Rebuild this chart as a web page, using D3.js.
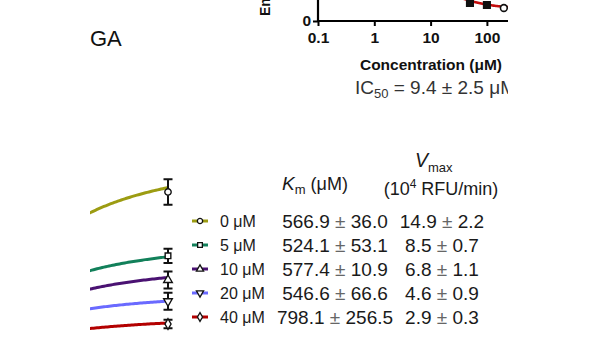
<!DOCTYPE html>
<html>
<head>
<meta charset="utf-8">
<script src="https://cdn.jsdelivr.net/npm/d3@7"></script>
<style>
  body { margin: 0; background: #fff; }
  svg { font-family: "Liberation Sans", Arial, sans-serif; }
</style>
</head>
<body>
<svg id="fig" width="600" height="338"></svg>
<script>
// inhibition curve (top panel)
const concTicks = [0.1, 1, 10, 100, 1000];
const ic50Conc = [50, 100, 200];
const ic50Act = [27.7, 24.6, 20.0];
const ic50Fit = { ic50: 9.4, top: 100, bottom: 18.2, hill: 1 };

// Michaelis-Menten panel (bottom)
const inhibitor = ["0 μM", "5 μM", "10 μM", "20 μM", "40 μM"];
const kmVals = [566.9, 524.1, 577.4, 546.6, 798.1];
const kmErr = [36.0, 53.1, 10.9, 66.6, 256.5];
const vmaxVals = [14.9, 8.5, 6.8, 4.6, 2.9];
const vmaxErr = [2.2, 0.7, 1.1, 0.9, 0.3];
const substrate = [2000];
const rateMean = [[11.3], [6.8], [5.1], [3.6], [2.0]];
const rateSd = [[0.9], [0.5], [0.6], [0.6], [0.3]];

const colors = ["#9c9c12", "#12805a", "#4a1272", "#6a6aff", "#b30000"];
const shapes = [d3.symbolCircle, d3.symbolSquare, d3.symbolTriangle, d3.symbolTriangle, d3.symbolDiamond];
const flip = [false, false, false, true, false];

const svg = d3.select("#fig");
const defs = svg.append("defs");
defs.append("clipPath").attr("id", "clipTop")
  .append("rect").attr("x", 0).attr("y", -10).attr("width", 508).attr("height", 130);
defs.append("clipPath").attr("id", "clipBottom")
  .append("rect").attr("x", 90).attr("y", 120).attr("width", 420).attr("height", 230);

// ---- top panel ----
const topPanel = svg.append("g").attr("clip-path", "url(#clipTop)");
const x1 = d3.scaleLog().domain([0.1, 1000]).range([318, 318 + 56.3 * 4]);
const y1 = d3.scaleLinear().domain([0, 100]).range([21, 21 - 65]);

const xAxis = d3.axisBottom(x1).tickValues(concTicks).tickSize(5).tickSizeOuter(0)
  .tickFormat(d3.format("~g"));
const gx = topPanel.append("g").attr("transform", "translate(0,21)").call(xAxis);
gx.select(".domain").attr("stroke-width", 2.2).attr("d", "M317,0H560");
gx.selectAll(".tick line").attr("stroke-width", 2);
gx.selectAll(".tick text").attr("font-size", 15.5).attr("font-weight", "bold")
  .attr("fill", "#111").attr("dy", "0.93em");

const yAxis = d3.axisLeft(y1).tickValues([0]).tickSize(5).tickSizeOuter(0);
const gy = topPanel.append("g").attr("transform", "translate(318,0)").call(yAxis);
gy.select(".domain").attr("stroke-width", 2.2).attr("d", "M0,-40V22");
gy.selectAll(".tick line").attr("stroke-width", 2);
gy.selectAll(".tick text").attr("font-size", 15.5).attr("font-weight", "bold")
  .attr("fill", "#111").attr("x", -7);

topPanel.append("text").attr("transform", "translate(270,16) rotate(-90)")
  .attr("font-size", 14).attr("font-weight", "bold").attr("fill", "#111")
  .text("Enzyme activity (%)");

const fitTop = c => ic50Fit.bottom + (ic50Fit.top - ic50Fit.bottom) / (1 + Math.pow(c / ic50Fit.ic50, ic50Fit.hill));
const logC = d3.range(-1, 2.6, 0.02).map(e => Math.pow(10, e));
topPanel.append("path").datum(logC)
  .attr("fill", "none").attr("stroke", "#c40d0d").attr("stroke-width", 2.6)
  .attr("d", d3.line().x(c => x1(c)).y(c => y1(fitTop(c))));

topPanel.selectAll(".pt").data(ic50Conc).join("path")
  .attr("transform", (c, i) => `translate(${x1(c)},${y1(ic50Act[i])})`)
  .attr("d", (c, i) => d3.symbol().type(i < 2 ? d3.symbolSquare : d3.symbolCircle).size(i < 2 ? 42 : 36)())
  .attr("fill", (c, i) => i < 2 ? "#111" : "#fff")
  .attr("stroke", "#111").attr("stroke-width", 1.6);

svg.append("text").attr("x", 431).attr("y", 70).attr("text-anchor", "middle")
  .attr("font-size", 15.5).attr("font-weight", "bold").attr("fill", "#111")
  .text("Concentration (μM)");

const ic = svg.append("text").attr("x", 355).attr("y", 94).attr("font-size", 19).attr("fill", "#333")
  .attr("clip-path", "url(#clipTop)");
ic.append("tspan").text("IC");
ic.append("tspan").attr("font-size", 13).attr("dy", 4).text("50");
ic.append("tspan").attr("dy", -4).text(" = 9.4 ± 2.5 μM");

svg.append("text").attr("x", 90).attr("y", 46).attr("font-size", 22).attr("fill", "#111").text("GA");

// ---- bottom panel ----
const bot = svg.append("g").attr("clip-path", "url(#clipBottom)");
const x2 = d3.scaleLinear().domain([0, 2000]).range([-5, 168]);
const y2 = d3.scaleLinear().domain([0, 12]).range([352.4, 352.4 - 14.2 * 12]);

const sGrid = d3.range(0, 2001, 20);
inhibitor.forEach((name, i) => {
  const mm = s => vmaxVals[i] * s / (kmVals[i] + s);
  bot.append("path").datum(sGrid)
    .attr("fill", "none").attr("stroke", colors[i]).attr("stroke-width", 3)
    .attr("d", d3.line().x(s => x2(s)).y(s => y2(mm(s))));

  substrate.forEach((s, j) => {
    const m = rateMean[i][j], e = rateSd[i][j];
    const xs = x2(s);
    bot.append("path")
      .attr("d", `M${xs},${y2(m + e)}V${y2(m - e)}M${xs - 4.5},${y2(m + e)}H${xs + 4.5}M${xs - 4.5},${y2(m - e)}H${xs + 4.5}`)
      .attr("stroke", "#111").attr("stroke-width", 2).attr("fill", "none");
    bot.append("path")
      .attr("transform", `translate(${xs},${y2(m)})${flip[i] ? " rotate(180)" : ""}`)
      .attr("d", d3.symbol().type(shapes[i]).size(32)())
      .attr("fill", "#fff").attr("stroke", "#111").attr("stroke-width", 1.4);
  });
});

// legend + fit table
const rowY = d3.scalePoint().domain(inhibitor).range([221, 317]);
const leg = svg.append("g");
inhibitor.forEach((name, i) => {
  const yy = rowY(name);
  leg.append("line").attr("x1", 192).attr("x2", 208).attr("y1", yy).attr("y2", yy)
    .attr("stroke", colors[i]).attr("stroke-width", 3);
  leg.append("path")
    .attr("transform", `translate(200,${yy})${flip[i] ? " rotate(180)" : ""}`)
    .attr("d", d3.symbol().type(shapes[i]).size(22)())
    .attr("fill", "#fff").attr("stroke", "#111").attr("stroke-width", 1.3);
  leg.append("text").attr("x", 220).attr("y", yy + 6).attr("font-size", 16).attr("fill", "#1a1a1a").text(name);

  const km = leg.append("text").attr("x", 335).attr("y", yy + 6.5).attr("text-anchor", "middle")
    .attr("font-size", 19).attr("fill", "#1a1a1a");
  km.append("tspan").text(kmVals[i].toFixed(1) + " ");
  km.append("tspan").attr("fill", "#666").text("±");
  km.append("tspan").text(" " + kmErr[i].toFixed(1));

  const vm = leg.append("text").attr("x", 442).attr("y", yy + 6.5).attr("text-anchor", "middle")
    .attr("font-size", 19).attr("fill", "#1a1a1a");
  vm.append("tspan").text(vmaxVals[i].toFixed(1) + " ");
  vm.append("tspan").attr("fill", "#666").text("±");
  vm.append("tspan").text(" " + vmaxErr[i].toFixed(1));
});

const kmHead = svg.append("text").attr("x", 282).attr("y", 190).attr("font-size", 19).attr("fill", "#1a1a1a");
kmHead.append("tspan").attr("font-style", "italic").text("K");
kmHead.append("tspan").attr("font-size", 13).attr("dy", 4).text("m");
kmHead.append("tspan").attr("dy", -4).attr("font-size", 18).text(" (μM)");

const vHead = svg.append("text").attr("x", 415).attr("y", 167).attr("font-size", 19.5).attr("fill", "#1a1a1a");
vHead.append("tspan").attr("font-style", "italic").text("V");
vHead.append("tspan").attr("font-size", 13).attr("dy", 5).text("max");

const unitHead = svg.append("text").attr("x", 441).attr("y", 195).attr("text-anchor", "middle")
  .attr("font-size", 18).attr("fill", "#1a1a1a");
unitHead.append("tspan").text("(10");
unitHead.append("tspan").attr("font-size", 12).attr("dy", -7).text("4");
unitHead.append("tspan").attr("dy", 7).text(" RFU/min)");
</script>
</body>
</html>
